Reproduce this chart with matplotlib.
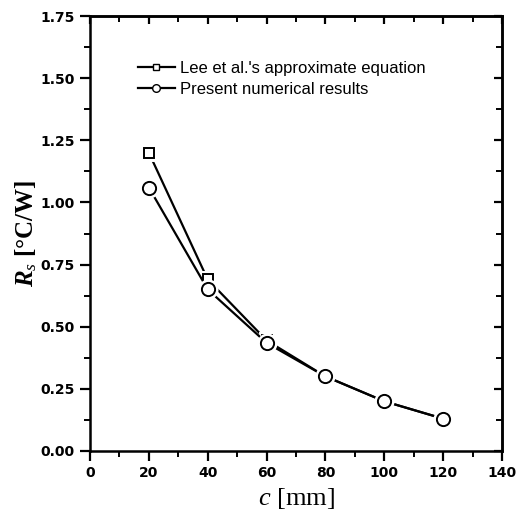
import matplotlib
matplotlib.use("Agg")
import matplotlib.pyplot as plt
from matplotlib.ticker import MultipleLocator, FormatStrFormatter
from matplotlib.lines import Line2D

c_mm = [20, 40, 60, 80, 100, 120]
lee_values = [1.20, 0.69, 0.445, 0.30, 0.20, 0.13]
present_values = [1.06, 0.65, 0.435, 0.30, 0.20, 0.13]
legend_labels = ["Lee et al.'s approximate equation", "Present numerical results"]

plt.rcParams['mathtext.fontset'] = 'custom'
plt.rcParams['mathtext.rm'] = 'Liberation Serif'
plt.rcParams['mathtext.it'] = 'Liberation Serif:italic'
plt.rcParams['mathtext.bf'] = 'Liberation Serif:bold'
plt.rcParams['mathtext.bfit'] = 'Liberation Serif:bold:italic'

fig = plt.figure(figsize=(5.2, 5.12), dpi=100)
ax = fig.add_axes([90/520, 1 - 451/512, 412/520, 435/512])

series = [(lee_values, 's', 7.5), (present_values, 'o', 9.5)]
for i, (vals, mk, ms) in enumerate(series):
    z = 2 + 3 * i
    ax.plot(c_mm, vals, color='black', lw=1.6, zorder=z)
    ax.plot(c_mm, vals, ls='none', marker=mk, ms=ms, mfc='white', mec='white', mew=5, zorder=z + 1)
    ax.plot(c_mm, vals, ls='none', marker=mk, ms=ms, mfc='white', mec='black', mew=1.4, zorder=z + 2)

ax.set_xlim(0, 140)
ax.set_ylim(0, 1.75)
ax.xaxis.set_major_locator(MultipleLocator(20))
ax.xaxis.set_minor_locator(MultipleLocator(10))
ax.yaxis.set_major_locator(MultipleLocator(0.25))
ax.yaxis.set_minor_locator(MultipleLocator(0.125))
ax.yaxis.set_major_formatter(FormatStrFormatter('%.2f'))

for sp in ax.spines.values():
    sp.set_linewidth(1.8)

ax.tick_params(which='major', direction='out', length=7, width=1.6, pad=4)
ax.tick_params(which='minor', direction='out', length=4, width=1.4)
for lab in ax.get_xticklabels() + ax.get_yticklabels():
    lab.set_fontfamily('DejaVu Sans')
    lab.set_fontweight('bold')
    lab.set_fontsize(10)

top = ax.secondary_xaxis('top')
top.xaxis.set_major_locator(MultipleLocator(20))
top.xaxis.set_minor_locator(MultipleLocator(10))
top.tick_params(which='major', direction='in', length=6, width=1.6, labeltop=False)
top.tick_params(which='minor', direction='in', length=4, width=1.4)
top.spines['top'].set_linewidth(1.8)

right = ax.secondary_yaxis('right')
right.yaxis.set_major_locator(MultipleLocator(0.25))
right.yaxis.set_minor_locator(MultipleLocator(0.125))
right.tick_params(which='major', direction='in', length=6, width=1.6, labelright=False)
right.tick_params(which='minor', direction='in', length=4, width=1.4)
right.spines['right'].set_linewidth(1.8)

ax.set_xlabel(r'$\mathit{c}$ [mm]', fontfamily='Liberation Serif', fontsize=19, labelpad=4)
ax.set_ylabel(r'$\mathbfit{R}_{\mathit{s}}$ [°C/W]', fontfamily='Liberation Serif',
              fontweight='bold', fontsize=18, labelpad=1)

handles = [
    Line2D([], [], color='black', lw=1.6, marker='s', ms=5, mfc='white', mec='black', mew=1.0),
    Line2D([], [], color='black', lw=1.6, marker='o', ms=5.5, mfc='white', mec='black', mew=1.0),
]
leg = ax.legend(handles, legend_labels, loc='upper left', bbox_to_anchor=(0.08, 0.932),
                frameon=False, handlelength=2.2, handletextpad=0.3, labelspacing=0.4,
                prop={'family': 'Liberation Sans', 'size': 12})

fig.savefig('out.png', dpi=100)
